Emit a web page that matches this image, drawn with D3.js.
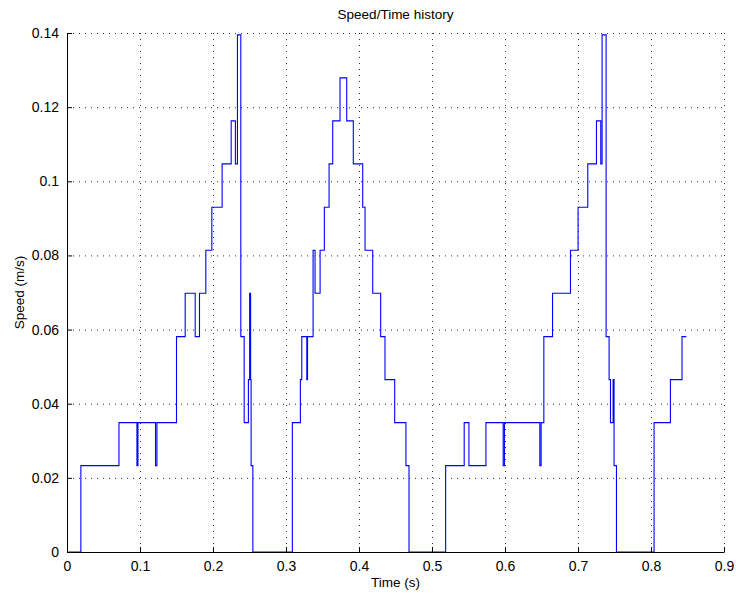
<!DOCTYPE html>
<html>
<head>
<meta charset="utf-8">
<script src="https://cdn.jsdelivr.net/npm/d3@7"></script>
<style>
  body { margin: 0; background: #fff; }
  text { font-family: "Liberation Sans", Arial, sans-serif; }
</style>
</head>
<body>
<div id="chart"></div>
<script>
// ---- data (step changes: time in s, speed in m/s)
var times = [0, 0.019, 0.0712, 0.0958, 0.0972, 0.1213, 0.1232, 0.150, 0.1619, 0.1756,
  0.1815, 0.1902, 0.1984, 0.2125, 0.2249, 0.2307, 0.2335, 0.2381, 0.2427, 0.2485,
  0.2502, 0.2515, 0.2522, 0.2546, 0.3087, 0.3197, 0.3216, 0.3285, 0.3295, 0.3371,
  0.3398, 0.3467, 0.3525, 0.3590, 0.3640, 0.3740, 0.3832, 0.3922, 0.4051, 0.4083,
  0.4188, 0.4297, 0.4356, 0.4489, 0.4643, 0.4685, 0.5187, 0.5441, 0.5506, 0.5739,
  0.5975, 0.5992, 0.6477, 0.6495, 0.6532, 0.6651, 0.6897, 0.7001, 0.7134, 0.7253,
  0.7312, 0.7330, 0.7385, 0.7426, 0.7445, 0.7481, 0.7494, 0.7527, 0.8042, 0.8266,
  0.8425, 0.8485];
var speeds = [0, 0.0233, 0.0349, 0.0233, 0.0349, 0.0233, 0.0349, 0.0581, 0.0698, 0.0581,
  0.0698, 0.0814, 0.0930, 0.1047, 0.1163, 0.1047, 0.1395, 0.0581, 0.0349, 0.0465,
  0.0698, 0.0465, 0.0233, 0, 0.0349, 0.0465, 0.0581, 0.0465, 0.0581, 0.0814,
  0.0698, 0.0814, 0.0930, 0.1047, 0.1163, 0.1279, 0.1163, 0.1047, 0.0930, 0.0814,
  0.0698, 0.0581, 0.0465, 0.0349, 0.0233, 0, 0.0233, 0.0349, 0.0233, 0.0349,
  0.0233, 0.0349, 0.0233, 0.0349, 0.0581, 0.0698, 0.0814, 0.0930, 0.1047, 0.1163,
  0.1047, 0.1395, 0.0581, 0.0465, 0.0349, 0.0465, 0.0233, 0, 0.0349, 0.0465,
  0.0581, 0.0581];
var xTicks = [0, 0.1, 0.2, 0.3, 0.4, 0.5, 0.6, 0.7, 0.8, 0.9];
var yTicks = [0, 0.02, 0.04, 0.06, 0.08, 0.1, 0.12, 0.14];

// ---- plot init
var margin = {top: 33, right: 12, bottom: 41, left: 67},
    width = 736 - margin.left - margin.right,
    height = 593 - margin.top - margin.bottom;

var svg = d3.select("#chart")
  .append("svg")
    .attr("width", 736)
    .attr("height", 593)
  .append("g")
    .attr("transform", "translate(" + margin.left + "," + margin.top + ")");

var x = d3.scaleLinear().domain([0, 0.9]).range([0, width]);
var y = d3.scaleLinear().domain([0, 0.14]).range([height, 0]);

// dotted grid
svg.append("g").selectAll("line").data(xTicks.slice(1)).enter().append("line")
  .attr("x1", d => x(d) + 0.5).attr("x2", d => x(d) + 0.5)
  .attr("y1", 0).attr("y2", height)
  .attr("stroke", "#333").attr("stroke-dasharray", "1,5");
svg.append("g").selectAll("line").data(yTicks.slice(1)).enter().append("line")
  .attr("y1", d => y(d) + 0.5).attr("y2", d => y(d) + 0.5)
  .attr("x1", 0).attr("x2", width)
  .attr("stroke", "#333").attr("stroke-dasharray", "1,5");

// the speed line
var data = times.map((t, i) => ({t: t, v: speeds[i]}));
var line = d3.line()
  .x(d => x(d.t))
  .y(d => y(d.v))
  .curve(d3.curveStepAfter);
svg.append("path").datum(data)
  .attr("d", line)
  .attr("fill", "none")
  .attr("stroke", "#0000ff")
  .attr("stroke-width", 1.1);

// axes, ticks pointing inward like matlab
var xAxis = svg.append("g")
  .attr("transform", "translate(0," + height + ")")
  .call(d3.axisBottom(x).tickValues(xTicks).tickFormat(d3.format("")).tickSizeInner(-5).tickSizeOuter(0).tickPadding(9));
var yAxis = svg.append("g")
  .call(d3.axisLeft(y).tickValues(yTicks).tickFormat(d3.format("")).tickSizeInner(-5).tickSizeOuter(0).tickPadding(8));
[xAxis, yAxis].forEach(function(a) {
  a.select(".domain").attr("stroke", "#000");
  a.selectAll(".tick line").attr("stroke", "#000");
  a.selectAll(".tick text").attr("font-size", "14px").attr("fill", "#000")
    .attr("font-family", "Liberation Sans, Arial, sans-serif");
});

// labels
svg.append("text")
  .attr("x", width / 2).attr("y", -14)
  .attr("text-anchor", "middle").attr("font-size", "13.5px")
  .text("Speed/Time history");
svg.append("text")
  .attr("x", width / 2).attr("y", height + 35)
  .attr("text-anchor", "middle").attr("font-size", "13.5px")
  .text("Time (s)");
svg.append("text")
  .attr("transform", "translate(-43," + (height / 2) + ") rotate(-90)")
  .attr("text-anchor", "middle").attr("font-size", "13.5px")
  .text("Speed (m/s)");
</script>
</body>
</html>
